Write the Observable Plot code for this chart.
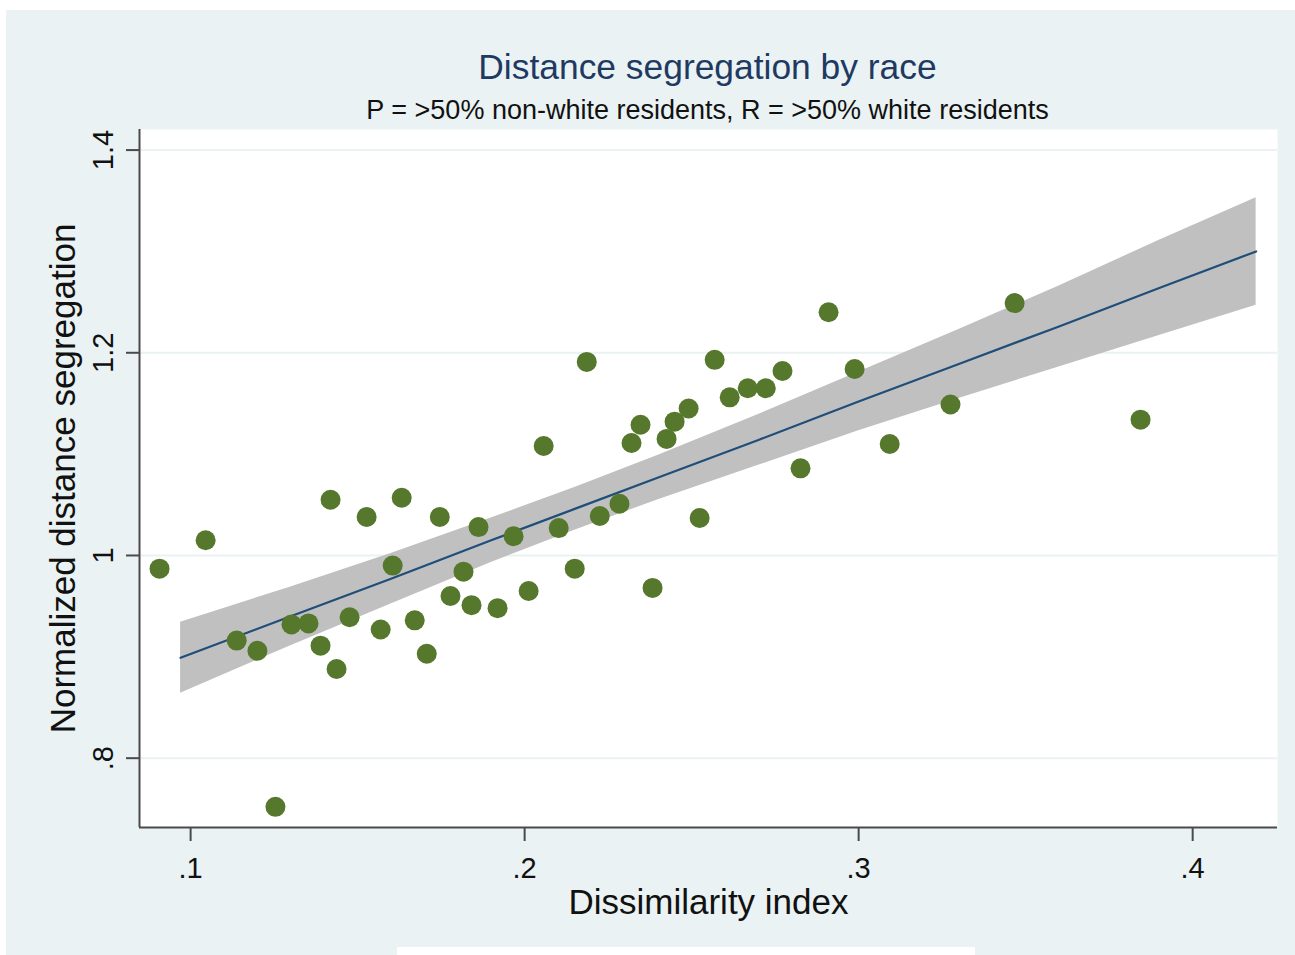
<!DOCTYPE html>
<html>
<head>
<meta charset="utf-8">
<script src="https://cdn.jsdelivr.net/npm/d3@7"></script>
<script src="https://cdn.jsdelivr.net/npm/@observablehq/plot@0.6"></script>
<style>
  html, body { margin: 0; padding: 0; background: #ffffff; }
  #wrap { position: relative; width: 1295px; height: 955px; overflow: hidden; background: #ffffff; font-family: "Liberation Sans", Arial, sans-serif; }
  #panel { position: absolute; left: 6px; top: 10px; width: 1289px; height: 945px; background: #eaf2f3; }
  #chart { position: absolute; left: 0; top: 0; }
  .t { position: absolute; left: 0; width: 1415px; text-align: center; white-space: nowrap; line-height: 1; }
  #title { top: 50px; font-size: 35.4px; color: #1e3a62; }
  #subtitle { top: 97px; font-size: 27px; color: #111; }
  #strip { position: absolute; left: 397px; top: 947px; width: 578px; height: 8px; background: #ffffff; }
</style>
</head>
<body>
<div id="wrap">
  <div id="panel"></div>
  <div id="chart"></div>
  <div id="title" class="t">Distance segregation by race</div>
  <div id="subtitle" class="t">P = &gt;50% non-white residents, R = &gt;50% white residents</div>
  <div id="strip"></div>
</div>
<script>
// ---- data ----
const dissimilarity = [0.0907, 0.1045, 0.1138, 0.1200, 0.1254, 0.1302, 0.1353, 0.1389, 0.1419, 0.1437,
  0.1476, 0.1527, 0.1569, 0.1605, 0.1632, 0.1671, 0.1707, 0.1746, 0.1778, 0.1817,
  0.1841, 0.1862, 0.1919, 0.1967, 0.2012, 0.2057, 0.2102, 0.2150, 0.2186, 0.2225,
  0.2284, 0.2320, 0.2347, 0.2383, 0.2425, 0.2449, 0.2491, 0.2524, 0.2569, 0.2614,
  0.2668, 0.2722, 0.2772, 0.2826, 0.2910, 0.2988, 0.3093, 0.3275, 0.3467, 0.3844];
const distanceSeg = [0.987, 1.015, 0.916, 0.906, 0.752, 0.932, 0.933, 0.911, 1.055, 0.888,
  0.939, 1.038, 0.927, 0.990, 1.057, 0.936, 0.903, 1.038, 0.960, 0.984,
  0.951, 1.028, 0.948, 1.019, 0.965, 1.108, 1.027, 0.987, 1.191, 1.039,
  1.051, 1.111, 1.129, 0.968, 1.115, 1.132, 1.145, 1.037, 1.193, 1.156,
  1.165, 1.165, 1.182, 1.086, 1.240, 1.184, 1.110, 1.149, 1.249, 1.134];

// fitted line and 95% CI band
const fitX  = [0.097, 0.13, 0.16, 0.19, 0.215, 0.24, 0.27, 0.30, 0.33, 0.36, 0.39, 0.419];
const fitY  = [0.899, 0.940, 0.977, 1.015, 1.046, 1.077, 1.114, 1.152, 1.189, 1.226, 1.264, 1.300];
const ciLow = [0.864, 0.911, 0.952, 0.993, 1.025, 1.055, 1.089, 1.123, 1.155, 1.186, 1.217, 1.247];
const ciHigh= [0.934, 0.969, 1.002, 1.037, 1.067, 1.099, 1.139, 1.181, 1.223, 1.266, 1.311, 1.353];

const xTicks = [0.1, 0.2, 0.3, 0.4];
const xTickLabels = [".1", ".2", ".3", ".4"];
const yTicks = [0.8, 1.0, 1.2, 1.4];
const yTickLabels = [".8", "1", "1.2", "1.4"];
const xDomain = [0.0847, 0.4254];
const yDomain = [0.7316, 1.4203];

const points = dissimilarity.map((x, i) => ({x, y: distanceSeg[i]}));
const fit = fitX.map((x, i) => ({x, y: fitY[i], lo: ciLow[i], hi: ciHigh[i]}));

const axisColor = "#4a4a4a";

const chart = Plot.plot({
  width: 1295,
  height: 955,
  marginTop: 129,
  marginLeft: 139,
  marginRight: 18,
  marginBottom: 128,
  style: { background: "transparent", fontFamily: "'Liberation Sans', Arial, sans-serif", color: "#111" },
  x: { domain: xDomain },
  y: { domain: yDomain },
  marks: [
    Plot.frame({ fill: "white", stroke: "none" }),
    Plot.gridY(yTicks, { stroke: "#eaf2f3", strokeOpacity: 1, strokeWidth: 2 }),
    Plot.areaY(fit, { x: "x", y1: "lo", y2: "hi", fill: "#c0c0c0", fillOpacity: 1 }),
    Plot.line(fit, { x: "x", y: "y", stroke: "#1f4e79", strokeWidth: 2.2 }),
    Plot.dot(points, { x: "x", y: "y", r: 10, fill: "#55782d", stroke: "none" }),
    Plot.ruleX([xDomain[0]], { stroke: axisColor, strokeWidth: 2 }),
    Plot.ruleY([yDomain[0]], { stroke: axisColor, strokeWidth: 2 }),
    Plot.axisX({ ticks: xTicks, tickFormat: (d, i) => xTickLabels[i], tickSize: 14, tickPadding: 16,
      fontSize: 29, stroke: axisColor, strokeWidth: 2, label: null, color: "#111" }),
    Plot.axisY({ ticks: yTicks, tickFormat: () => "", tickSize: 13, stroke: axisColor, strokeWidth: 2, label: null }),
    Plot.text(yTicks, { y: d => d, text: (d, i) => yTickLabels[i], frameAnchor: "left", textAnchor: "middle",
      lineAnchor: "middle", rotate: -90, dx: -36, fontSize: 29, fill: "#111" }),
    Plot.text(["Dissimilarity index"], { frameAnchor: "bottom", lineAnchor: "middle", dy: 75, fontSize: 35, fill: "#111" }),
    Plot.text(["Normalized distance segregation"], { frameAnchor: "left", textAnchor: "middle", lineAnchor: "middle",
      rotate: -90, dx: -76, fontSize: 35, fill: "#111" })
  ]
});
document.getElementById("chart").appendChild(chart);
</script>
</body>
</html>
